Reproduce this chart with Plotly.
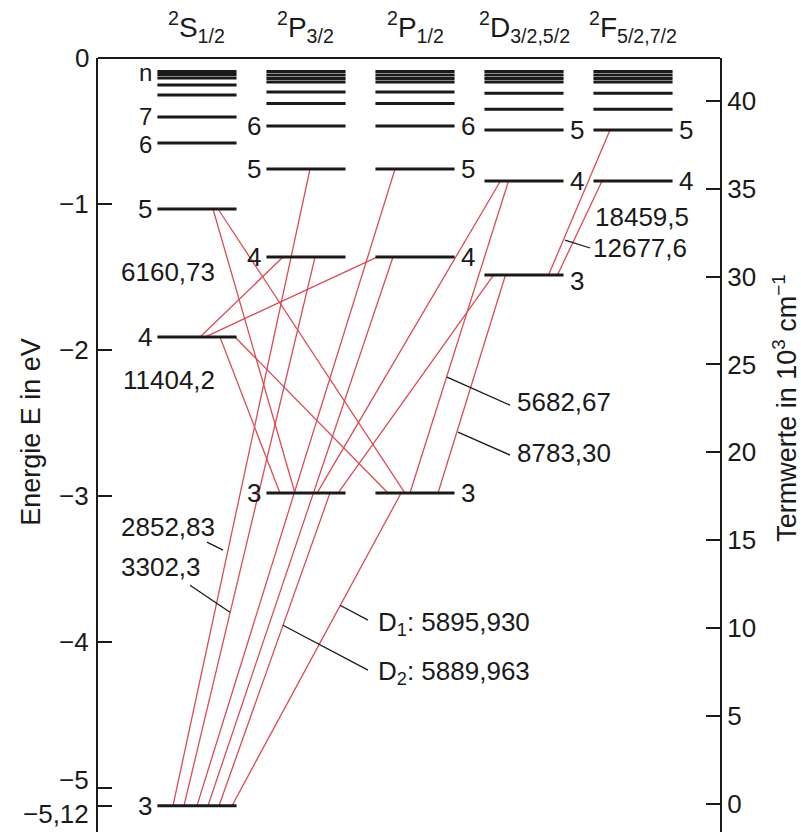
import plotly.graph_objects as go

FONT = "Liberation Sans, Arial, sans-serif"
INK = "#1a1a1a"
RED = "rgb(216,76,86)"

# ---------------- data ----------------
col_headers = ["<sup>2</sup>S<sub>1/2</sub>", "<sup>2</sup>P<sub>3/2</sub>", "<sup>2</sup>P<sub>1/2</sub>",
               "<sup>2</sup>D<sub>3/2,5/2</sub>", "<sup>2</sup>F<sub>5/2,7/2</sub>"]
col_keys = ["S", "P3", "P1", "D", "F"]
label_side = ["left", "left", "right", "right", "right"]

S_n = [3, 4, 5, 6, 7]
S_E = [-5.12, -1.911, -1.034, -0.582, -0.404]
S_high = [-0.092, -0.113, -0.137, -0.185, -0.253]

P_n = [3, 4, 5, 6]
P_E = [-2.979, -1.363, -0.760, -0.466]
P_high = [-0.092, -0.116, -0.140, -0.164, -0.233, -0.312]

D_n = [3, 4, 5]
D_E = [-1.486, -0.842, -0.493]
D_high = [-0.092, -0.116, -0.140, -0.164, -0.242, -0.351]

F_n = [4, 5]
F_E = [-0.842, -0.493]
F_high = [-0.092, -0.116, -0.140, -0.164, -0.242, -0.351]

levels = {"S": (S_n, S_E, S_high), "P3": (P_n, P_E, P_high), "P1": (P_n, P_E, P_high),
          "D": (D_n, D_E, D_high), "F": (F_n, F_E, F_high)}

# transitions: (from column, n, to column, n)
trans_from = [("S", 3), ("S", 3), ("S", 3), ("S", 3), ("S", 3), ("S", 3),
              ("S", 4), ("S", 4), ("S", 4), ("S", 4), ("S", 5), ("S", 5),
              ("P3", 3), ("P3", 3), ("P1", 3), ("P1", 3), ("D", 3), ("D", 3)]
trans_to = [("P3", 5), ("P3", 4), ("P1", 5), ("P1", 4), ("P3", 3), ("P1", 3),
            ("P3", 4), ("P1", 4), ("P3", 3), ("P1", 3), ("P3", 3), ("P1", 3),
            ("D", 4), ("D", 3), ("D", 4), ("D", 3), ("F", 5), ("F", 4)]
# attachment point along each level bar (column units from its centre)
trans_from_off = [-0.22, -0.119, 0.0, 0.101, 0.202, 0.321,
                  0.028, 0.073, 0.211, 0.349, 0.147, 0.193,
                  0.101, 0.294, -0.046, 0.211, 0.225, 0.307]
trans_to_off = [0.037, 0.083, -0.183, -0.202, 0.220, -0.128,
                -0.211, -0.349, -0.239, -0.248, -0.101, -0.092,
                -0.216, -0.28, -0.142, -0.17, -0.211, -0.284]

# wavelength labels (Angstrom): text, x, y, pointer (x0,y0,x1,y1) or None
wl_text = ["6160,73", "11404,2", "2852,83", "3302,3", "D<sub>1</sub>: 5895,930", "D<sub>2</sub>: 5889,963",
           "5682,67", "8783,30", "18459,5", "12677,6"]
wl_x = [-0.716, -0.698, -0.716, -0.716, 1.642, 1.642, 2.917, 2.917, 3.633, 3.615]
wl_y = [-1.466, -2.205, -3.212, -3.486, -3.870, -4.205, -2.356, -2.705, -1.089, -1.301]
wl_ptr = [None, None, (0.092, -3.315, 0.239, -3.370), (-0.064, -3.610, 0.303, -3.795),
          (1.569, -3.849, 1.312, -3.747), (1.569, -4.192, 0.789, -3.884),
          (2.872, -2.377, 2.294, -2.185), (2.872, -2.719, 2.394, -2.562),
          None, (3.606, -1.301, 3.376, -1.247)]

eV_ticks = [0, -1, -2, -3, -4, -5, -5.12]
eV_text = ["0", "\u22121", "\u22122", "\u22123", "\u22124", "\u22125", "\u22125,12"]
wn_ticks = [0, 5, 10, 15, 20, 25, 30, 35, 40]

HW = 0.363  # half bar width in column units


def energy(col, n):
    ns, es, _ = levels[col]
    return es[ns.index(n)]


fig = go.Figure()

# red transitions
rx, ry = [], []
for (fc, fn), (tc, tn), fo, to in zip(trans_from, trans_to, trans_from_off, trans_to_off):
    rx += [col_keys.index(fc) + fo, col_keys.index(tc) + to, None]
    ry += [energy(fc, fn), energy(tc, tn), None]
fig.add_trace(go.Scatter(x=rx, y=ry, mode="lines", line=dict(color=RED, width=1.3), hoverinfo="skip"))

# level bars
lx, ly = [], []
for i, key in enumerate(col_keys):
    ns, es, hi = levels[key]
    for e in list(es) + list(hi):
        lx += [i - HW, i + HW, None]
        ly += [e, e, None]
fig.add_trace(go.Scatter(x=lx, y=ly, mode="lines", line=dict(color=INK, width=3), hoverinfo="skip"))

# pointer lines
px_, py_ = [], []
for p in wl_ptr:
    if p:
        px_ += [p[0], p[2], None]
        py_ += [p[1], p[3], None]
fig.add_trace(go.Scatter(x=px_, y=py_, mode="lines", line=dict(color=INK, width=1.3), hoverinfo="skip"))

# invisible trace on secondary axis
fig.add_trace(go.Scatter(x=[None], y=[None], yaxis="y2", hoverinfo="skip"))

ann = []
tf = dict(family=FONT, size=26, color=INK)
tf_small = dict(family=FONT, size=24, color=INK)
# headers
for i, h in enumerate(col_headers):
    ann.append(dict(x=i, y=1.012, xref="x", yref="paper", text=h, showarrow=False,
                    xanchor="center", yanchor="bottom", font=dict(family=FONT, size=28, color=INK)))
# left tick labels
for v, t in zip(eV_ticks, eV_text):
    anchor, shift = "middle", 0
    if v == -5:
        anchor, shift = "bottom", -9
    elif v == -5.12:
        anchor, shift = "top", 9
    ann.append(dict(x=0, xref="paper", y=v, yref="y", text=t, showarrow=False, xanchor="right",
                    yanchor=anchor, yshift=shift, xshift=-7, font=tf))
# level numbers
for i, key in enumerate(col_keys):
    ns, es, _ = levels[key]
    for n, e in zip(ns, es):
        if label_side[i] == "left":
            ys, f = 0, tf
            if key == "S" and n == 7:
                ys, f = 1, tf_small
            elif key == "S" and n == 6:
                ys, f = -2, tf_small
            ann.append(dict(x=i - HW - 0.035, y=e, text=str(n), showarrow=False, xanchor="right",
                            yanchor="middle", font=f, yshift=ys))
        else:
            ys = -6 if (key == "D" and n == 3) else 0
            ann.append(dict(x=i + HW + 0.045, y=e, text=str(n), showarrow=False, xanchor="left",
                            yanchor="middle", font=tf, yshift=ys))
ann.append(dict(x=-HW - 0.035, y=-0.116, text="n", showarrow=False, xanchor="right", yanchor="middle",
                font=tf_small, yshift=2))
# wavelengths
for t, x, y in zip(wl_text, wl_x, wl_y):
    ann.append(dict(x=x, y=y, text=t, showarrow=False, xanchor="left", yanchor="middle", font=tf))
# axis titles
ann.append(dict(x=-0.1077, y=0.517, xref="paper", yref="paper", text="Energie E in eV", textangle=-90,
                showarrow=False, xanchor="center", yanchor="middle",
                font=dict(family=FONT, size=27, color=INK)))
ann.append(dict(x=1.1045, y=0.548, xref="paper", yref="paper",
                text="Termwerte in 10<sup>3</sup> cm<sup>\u22121</sup>", textangle=-90,
                showarrow=False, xanchor="center", yanchor="middle",
                font=dict(family=FONT, size=27, color=INK)))

fig.update_layout(
    width=801, height=834,
    margin=dict(l=98, r=81, t=58, b=2),
    paper_bgcolor="white", plot_bgcolor="white",
    showlegend=False,
    xaxis=dict(range=[-0.908, 4.798], visible=False, fixedrange=True),
    yaxis=dict(range=[-5.30, 0], tickvals=eV_ticks, showticklabels=False, ticks="inside", ticklen=14,
               tickwidth=2, tickcolor=INK, showline=True, linewidth=2, linecolor=INK, showgrid=False,
               zeroline=False, fixedrange=True),
    yaxis2=dict(range=[-1.59, 42.43], overlaying="y", side="right", tickvals=wn_ticks, ticks="inside",
                ticklen=14, tickwidth=2, tickcolor=INK, showline=True, linewidth=2, linecolor=INK,
                showgrid=False, zeroline=False, tickfont=tf, fixedrange=True),
    annotations=ann,
    shapes=[dict(type="line", xref="paper", yref="paper", x0=0, x1=1, y0=1, y1=1,
                 line=dict(color=INK, width=2))],
)

fig.write_html("out.html")
